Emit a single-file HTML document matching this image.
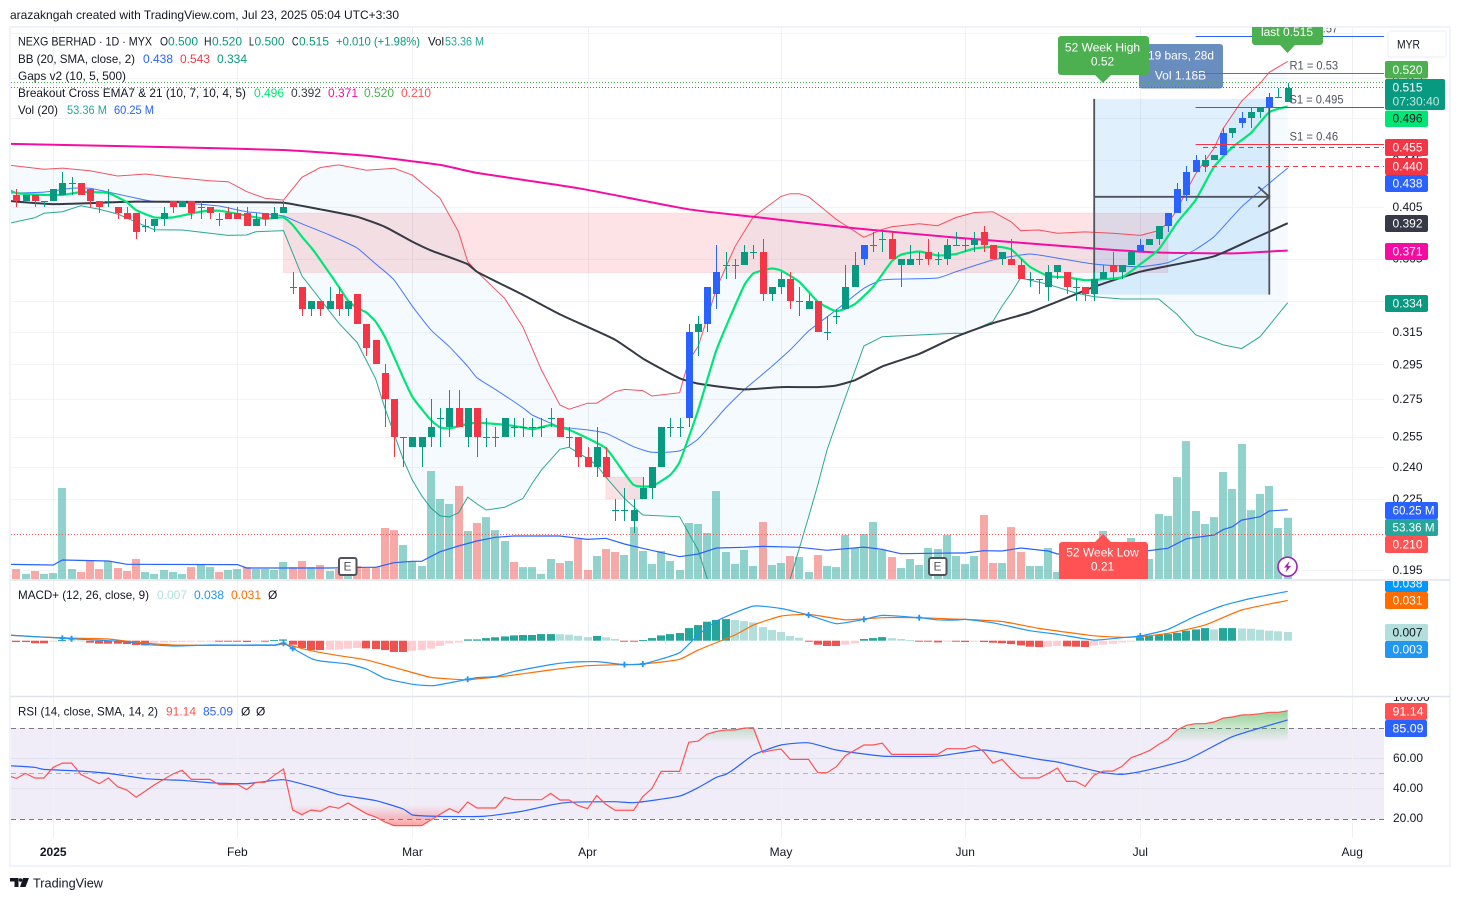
<!DOCTYPE html>
<html lang="en">
<head>
<meta charset="utf-8">
<title>NEXG BERHAD chart</title>
<style>
html,body{margin:0;padding:0;background:#fff;width:1460px;height:901px;overflow:hidden}
svg{display:block}
text{font-family:"Liberation Sans","DejaVu Sans",sans-serif;font-size:12px;dominant-baseline:central;fill:#131722}
.w{fill:#fff}
.c{text-anchor:middle}
</style>
</head>
<body>
<svg id="chart" xmlns="http://www.w3.org/2000/svg" width="1460" height="901" viewBox="0 0 1460 901">
<defs>
<clipPath id="clip-main"><rect x="11" y="28" width="1373" height="551"/></clipPath>
<clipPath id="clip-macd"><rect x="11" y="581" width="1373" height="115"/></clipPath>
<clipPath id="clip-rsi"><rect x="11" y="698" width="1373" height="140"/></clipPath>
<clipPath id="clip-axis-price"><rect x="1385" y="31" width="66" height="549"/></clipPath>
<clipPath id="clip-axis-macd"><rect x="1385" y="581" width="66" height="115"/></clipPath>
<clipPath id="clip-axis-rsi"><rect x="1385" y="697" width="66" height="140"/></clipPath>
<linearGradient id="rsi-over-grad" gradientUnits="userSpaceOnUse" x1="0" y1="711" x2="0" y2="742">
<stop offset="0" stop-color="#4caf50" stop-opacity=".6"/><stop offset="1" stop-color="#4caf50" stop-opacity="0"/>
</linearGradient>
<linearGradient id="rsi-under-grad" gradientUnits="userSpaceOnUse" x1="0" y1="826" x2="0" y2="805">
<stop offset="0" stop-color="#ff5252" stop-opacity=".55"/><stop offset="1" stop-color="#ff5252" stop-opacity="0"/>
</linearGradient>
</defs>

<rect x="0" y="0" width="1460" height="901" fill="#fff"/>
<text x="10" y="15" textLength="389" lengthAdjust="spacingAndGlyphs">arazakngah created with TradingView.com, Jul 23, 2025 05:04 UTC+3:30</text>
<rect x="10" y="27" width="1440" height="839" fill="#fff" stroke="#f0f3fa" stroke-width="2"/>

<rect x="11" y="728" width="1373" height="91" fill="#f0edf8"/>
<g id="grid"></g>

<g clip-path="url(#clip-main)">
<g id="bb-fill"></g>
<g id="gaps"></g>
<g id="volume"></g>
<g id="vol-ma"></g>
<g id="measure-fill"></g>
<g id="main-lines"></g>
<g id="measure-lines"></g>
<g id="candles"></g>
</g>

<line x1="11" x2="1384" y1="534.5" y2="534.5" stroke="#ff5252" stroke-dasharray="1 2"/>

<g>
<rect x="1139" y="44" width="84" height="44.5" rx="3" fill="#6a8dc0"/>
<text class="w" x="1148" y="55.5" textLength="66" lengthAdjust="spacingAndGlyphs">19 bars, 28d</text>
<text class="w c" x="1180.5" y="75.5">Vol 1.18B</text>
</g>

<line x1="11" x2="1384" y1="82.5" y2="82.5" stroke="#4caf50" stroke-dasharray="1 2"/>
<line x1="11" x2="1384" y1="87.5" y2="87.5" stroke="#089981" stroke-dasharray="1 2"/>
<g id="pivots" clip-path="url(#clip-main)"></g>
<line x1="1203" x2="1384" y1="147.5" y2="147.5" stroke="#f23645" stroke-dasharray="5 4"/>
<line x1="1203" x2="1384" y1="166.5" y2="166.5" stroke="#f23645" stroke-dasharray="5 4"/>

<g>
<path d="M1252 27H1323V42a3 3 0 0 1-3 3H1295L1287.5 53L1280 45H1255a3 3 0 0 1-3-3Z" fill="#4caf50"/>
<text class="w c" x="1287" y="32">last 0.515</text>
</g>
<g>
<path d="M1061 36H1146a3 3 0 0 1 3 3V72a3 3 0 0 1-3 3H1111L1103 83L1095 75H1061a3 3 0 0 1-3-3V39a3 3 0 0 1 3-3Z" fill="#4caf50"/>
<text class="w c" x="1102.5" y="47.5">52 Week High</text>
<text class="w c" x="1102.5" y="61.5">0.52</text>
</g>
<g>
<path d="M1095 542L1103 534L1111 542H1145a3 3 0 0 1 3 3V579H1059V545a3 3 0 0 1 3-3Z" fill="#ff5252"/>
<text class="w c" x="1102.5" y="552.5">52 Week Low</text>
<text class="w c" x="1102.5" y="566.5">0.21</text>
</g>

<g>
<rect x="339" y="558" width="17.5" height="17" rx="2" fill="#fff" stroke="#50535e" stroke-width="2"/>
<text class="c" x="347.5" y="566.7" style="fill:#50535e">E</text>
</g>
<g>
<rect x="929" y="558" width="17.5" height="17" rx="2" fill="#fff" stroke="#50535e" stroke-width="2"/>
<text class="c" x="937.5" y="566.7" style="fill:#50535e">E</text>
</g>
<g>
<circle cx="1287.5" cy="566.7" r="9.5" fill="#fff" stroke="#9c27b0" stroke-width="1.6"/>
<path d="M1289.5 561L1284 567.5H1287L1285.5 572.5L1291 566H1288Z" fill="#9c27b0"/>
</g>

<line x1="10" x2="1450" y1="580" y2="580" stroke="#e0e3eb" stroke-width="1.5"/>
<line x1="10" x2="1450" y1="696.5" y2="696.5" stroke="#e0e3eb" stroke-width="1.5"/>

<g clip-path="url(#clip-macd)">
<g id="macd-hist"></g>
<g id="macd-lines"></g>
</g>

<line x1="11" x2="1384" y1="728.5" y2="728.5" stroke="#787b86" stroke-dasharray="5 4"/>
<line x1="11" x2="1384" y1="773.5" y2="773.5" stroke="#b2b5be" stroke-dasharray="5 4"/>
<line x1="11" x2="1384" y1="819.5" y2="819.5" stroke="#787b86" stroke-dasharray="5 4"/>
<g clip-path="url(#clip-rsi)">
<g id="rsi-area"></g>
<g id="rsi-lines"></g>
</g>

<g id="price-ticks" clip-path="url(#clip-axis-price)"></g>
<g id="axis-labels"></g>
<g clip-path="url(#clip-axis-rsi)">
<text x="1393" y="697">100.00</text>
</g>
<text x="1393" y="758">60.00</text>
<text x="1393" y="788">40.00</text>
<text x="1393" y="818">20.00</text>

<g>
<rect x="1385" y="61" width="43" height="17.5" rx="2" fill="#4caf50"/><text class="w" x="1392.5" y="70">0.520</text>
<rect x="1385" y="79" width="60" height="31" rx="2" fill="#089981"/><text class="w" x="1392.5" y="87.5">0.515</text><text class="w" x="1392.5" y="101.5" style="opacity:.75" textLength="47" lengthAdjust="spacingAndGlyphs">07:30:40</text>
<rect x="1385" y="110.5" width="43" height="16.5" rx="2" fill="#00e676"/><text x="1392.5" y="118.5">0.496</text>
<rect x="1385" y="139" width="43" height="17" rx="2" fill="#f23645"/><text class="w" x="1392.5" y="147.5">0.455</text>
<rect x="1385" y="158" width="43" height="17" rx="2" fill="#f23645"/><text class="w" x="1392.5" y="166.5">0.440</text>
<rect x="1385" y="175" width="43" height="17" rx="2" fill="#2962ff"/><text class="w" x="1392.5" y="183.5">0.438</text>
<rect x="1385" y="215" width="43" height="17" rx="2" fill="#363a45"/><text class="w" x="1392.5" y="223.5">0.392</text>
<rect x="1385" y="243" width="43" height="17" rx="2" fill="#f50da2"/><text class="w" x="1392.5" y="251.5">0.371</text>
<rect x="1385" y="295" width="43" height="17" rx="2" fill="#089981"/><text class="w" x="1392.5" y="303.5">0.334</text>
<rect x="1385" y="502" width="53" height="17" rx="2" fill="#2962ff"/><text class="w" x="1392.5" y="510.5" textLength="42" lengthAdjust="spacingAndGlyphs">60.25 M</text>
<rect x="1385" y="519" width="53" height="17" rx="2" fill="#26a69a"/><text class="w" x="1392.5" y="527.5" textLength="42" lengthAdjust="spacingAndGlyphs">53.36 M</text>
<rect x="1385" y="536" width="43" height="17" rx="2" fill="#ff5252"/><text class="w" x="1392.5" y="544.5">0.210</text>
<g clip-path="url(#clip-axis-macd)"><rect x="1385" y="575" width="43" height="17" rx="2" fill="#0098ff"/><text class="w" x="1392.5" y="583.5">0.038</text></g>
<rect x="1385" y="592" width="43" height="17" rx="2" fill="#ff6d00"/><text class="w" x="1392.5" y="600.5">0.031</text>
<rect x="1385" y="624" width="43" height="17" rx="2" fill="#b2dfdb"/><text x="1392.5" y="632.5">0.007</text>
<rect x="1385" y="641" width="43" height="17" rx="2" fill="#2196f3"/><text class="w" x="1392.5" y="649.5">0.003</text>
<rect x="1385" y="703" width="42" height="17" rx="2" fill="#ff5252"/><text class="w" x="1392.5" y="711.5" textLength="31" lengthAdjust="spacingAndGlyphs">91.14</text>
<rect x="1385" y="720" width="42" height="17" rx="2" fill="#2962ff"/><text class="w" x="1392.5" y="728.5" textLength="31" lengthAdjust="spacingAndGlyphs">85.09</text>
</g>

<g>
<rect x="1388" y="31" width="58" height="26" rx="3" fill="#fff" stroke="#f0f3fa" stroke-width="1.5"/>
<text x="1397" y="44.5" textLength="23" lengthAdjust="spacingAndGlyphs">MYR</text>
</g>

<g>
<text x="18" y="41.5" textLength="134" lengthAdjust="spacingAndGlyphs">NEXG BERHAD · 1D · MYX</text>
<text x="160" y="41.5" textLength="8" lengthAdjust="spacingAndGlyphs">O</text><text x="168" y="41.5" style="fill:#089981">0.500</text>
<text x="204" y="41.5" textLength="7.5" lengthAdjust="spacingAndGlyphs">H</text><text x="212" y="41.5" style="fill:#089981">0.520</text>
<text x="249" y="41.5" textLength="5" lengthAdjust="spacingAndGlyphs">L</text><text x="254.5" y="41.5" style="fill:#089981">0.500</text>
<text x="292" y="41.5" textLength="6.5" lengthAdjust="spacingAndGlyphs">C</text><text x="299" y="41.5" style="fill:#089981">0.515</text>
<text x="336" y="41.5" style="fill:#089981" textLength="84" lengthAdjust="spacingAndGlyphs">+0.010 (+1.98%)</text>
<text x="428" y="41.5" textLength="16" lengthAdjust="spacingAndGlyphs">Vol</text><text x="445" y="41.5" style="fill:#26a69a" textLength="39" lengthAdjust="spacingAndGlyphs">53.36 M</text>

<text x="18" y="59" textLength="117" lengthAdjust="spacingAndGlyphs">BB (20, SMA, close, 2)</text>
<text x="143" y="59" style="fill:#2962ff">0.438</text>
<text x="180" y="59" style="fill:#f23645">0.543</text>
<text x="217" y="59" style="fill:#089981">0.334</text>

<text x="18" y="76" textLength="108" lengthAdjust="spacingAndGlyphs">Gaps v2 (10, 5, 500)</text>

<text x="18" y="93" textLength="228" lengthAdjust="spacingAndGlyphs">Breakout Cross EMA7 &amp; 21 (10, 7, 10, 4, 5)</text>
<text x="254" y="93" style="fill:#00e676">0.496</text>
<text x="291" y="93" style="fill:#363a45">0.392</text>
<text x="328" y="93" style="fill:#f50da2">0.371</text>
<text x="364" y="93" style="fill:#4caf50">0.520</text>
<text x="401" y="93" style="fill:#ff5252">0.210</text>

<text x="18" y="110" textLength="40" lengthAdjust="spacingAndGlyphs">Vol (20)</text>
<text x="67" y="110" style="fill:#26a69a" textLength="40" lengthAdjust="spacingAndGlyphs">53.36 M</text>
<text x="114" y="110" style="fill:#2962ff" textLength="40" lengthAdjust="spacingAndGlyphs">60.25 M</text>

<text x="18" y="595" textLength="131" lengthAdjust="spacingAndGlyphs">MACD+ (12, 26, close, 9)</text>
<text x="157" y="595" style="fill:#b2dfdb">0.007</text>
<text x="194" y="595" style="fill:#2196f3">0.038</text>
<text x="231" y="595" style="fill:#ff6d00">0.031</text>
<text x="268" y="595">Ø</text>

<text x="18" y="711.5" textLength="140" lengthAdjust="spacingAndGlyphs">RSI (14, close, SMA, 14, 2)</text>
<text x="166" y="711.5" style="fill:#ff5252" textLength="30" lengthAdjust="spacingAndGlyphs">91.14</text>
<text x="203" y="711.5" style="fill:#2962ff" textLength="30" lengthAdjust="spacingAndGlyphs">85.09</text>
<text x="241" y="711.5">Ø</text>
<text x="256" y="711.5">Ø</text>
</g>

<g>
<path d="M10 878H18.5V887H14.5V881.5H10ZM23 878H29L25.5 887H20Z" fill="#131722"/>
<circle cx="20.5" cy="880" r="1.8" fill="#131722"/>
<text x="33" y="883" style="font-size:13px" textLength="70" lengthAdjust="spacingAndGlyphs">TradingView</text>
</g>
</svg>

<script>
// ---- candle data (one entry per daily bar) ----
const opens=[.415,.41,.415,.41,.41,.415,.425,.425,.42,.41,.41,.405,.40,.40,.39,.39,.395,.41,.405,.41,.405,.405,.395,.40,.40,.40,.39,.40,.395,.40,.345,.345,.33,.335,.33,.34,.33,.34,.32,.31,.29,.275,.255,.25,.25,.255,.265,.26,.27,.255,.27,.255,.255,.255,.26,.26,.26,.26,.265,.265,.255,.255,.245,.24,.245,.22,.22,.215,.225,.23,.24,.26,.26,.265,.315,.32,.34,.36,.36,.36,.37,.37,.34,.345,.35,.335,.33,.335,.315,.325,.33,.345,.365,.375,.38,.38,.36,.36,.365,.37,.365,.365,.375,.375,.375,.385,.375,.365,.365,.36,.35,.35,.345,.355,.355,.345,.345,.34,.35,.36,.355,.36,.37,.375,.38,.39,.40,.415,.435,.44,.445,.45,.47,.48,.485,.49,.495,.505,.50];
const highs=[.42,.415,.415,.41,.42,.435,.43,.425,.42,.41,.42,.405,.405,.40,.395,.395,.405,.41,.41,.41,.41,.405,.40,.405,.405,.405,.40,.40,.405,.41,.355,.345,.335,.335,.345,.345,.335,.34,.32,.31,.295,.275,.255,.255,.255,.275,.27,.28,.28,.27,.27,.265,.26,.265,.265,.265,.265,.265,.27,.265,.26,.255,.25,.26,.25,.225,.23,.225,.235,.24,.26,.265,.265,.32,.325,.345,.375,.37,.365,.375,.375,.38,.345,.355,.355,.345,.34,.335,.325,.33,.36,.37,.375,.385,.385,.385,.365,.375,.37,.38,.37,.38,.385,.38,.385,.39,.375,.37,.38,.365,.355,.35,.36,.36,.355,.35,.345,.355,.36,.37,.36,.37,.38,.38,.39,.40,.425,.44,.45,.45,.45,.475,.475,.49,.495,.495,.51,.515,.52];
const lows=[.405,.41,.405,.405,.41,.415,.415,.415,.405,.40,.405,.395,.395,.38,.385,.385,.39,.40,.405,.395,.395,.395,.39,.395,.395,.39,.39,.39,.395,.40,.34,.325,.325,.325,.33,.325,.325,.32,.30,.295,.26,.245,.24,.25,.24,.25,.25,.255,.26,.25,.245,.25,.25,.255,.255,.255,.255,.255,.26,.255,.25,.24,.24,.235,.235,.215,.215,.21,.225,.225,.24,.255,.255,.26,.30,.315,.33,.35,.35,.36,.365,.335,.335,.34,.33,.325,.33,.315,.31,.32,.33,.345,.36,.37,.37,.365,.345,.36,.36,.36,.36,.36,.375,.37,.37,.37,.365,.36,.36,.35,.345,.34,.335,.35,.34,.335,.335,.335,.35,.35,.35,.36,.37,.375,.375,.385,.40,.41,.435,.435,.445,.45,.465,.475,.475,.485,.495,.505,.50];
const closes=[.41,.415,.41,.41,.42,.425,.425,.415,.41,.405,.41,.40,.395,.385,.39,.395,.40,.405,.41,.40,.405,.40,.395,.395,.395,.39,.395,.395,.40,.405,.345,.33,.335,.33,.335,.33,.335,.32,.305,.295,.275,.255,.255,.255,.255,.26,.265,.27,.26,.27,.255,.255,.255,.265,.26,.26,.26,.26,.265,.255,.255,.245,.24,.25,.235,.22,.22,.22,.23,.24,.26,.26,.26,.315,.32,.345,.355,.36,.36,.37,.37,.34,.345,.35,.335,.335,.335,.315,.315,.325,.345,.36,.375,.375,.38,.365,.365,.365,.365,.365,.365,.375,.375,.375,.38,.375,.365,.37,.36,.35,.35,.35,.355,.36,.345,.345,.34,.35,.355,.355,.36,.37,.375,.38,.39,.40,.42,.435,.445,.445,.45,.47,.475,.485,.49,.495,.505,.505,.515];
const breakoutBars=[73,75,76,92,122,125,126,127,128,131,133,136];

// ---- volume data (millions) ----
const volumes=[8.7,4.4,7,4.4,5.2,79.2,8.7,6.1,15.7,8.7,15.7,9.6,7,17.4,6.1,4.4,7.8,6.1,4.4,10.4,12.2,10.4,6.1,7.8,8.7,10.4,8.7,8.7,7.8,14.8,10.4,15.7,10.4,12.2,7,8.7,2.5,11.3,9.6,10.4,44.4,42.6,29.6,15.7,11.3,94,69.6,65.3,80.9,41.8,48.7,53.9,42.6,33.1,14.8,10.4,10.4,4.4,17.4,13.9,15.7,34.8,7.8,20,26.1,23.5,20.9,45.2,24.4,13.1,24.4,15.7,7.8,48.7,47.9,40,76.6,23.5,13.1,25.2,11.3,49.6,12.2,13.9,20,19.1,6.1,20.9,11.3,10.4,38.3,27,39.2,49.6,25.2,19.1,9.6,17.4,12.2,27,26.1,38.3,20,13,20,55.7,13.9,13.9,45.2,23.5,11.3,11.3,27,6.1,10,8,12,15,41.8,15,18,35.7,25,17.4,56.6,54.8,88.7,120,59.2,47.9,53.9,93.1,78.3,117.5,60,74,80.9,44.4,53.36];
const volDownBars=[0,2,7,8,9,11,12,13,19,22,25,30,31,33,35,37,38,39,40,41,48,50,54,59,61,62,64,65,81,84,87,95,105,106,108,109,114,116,119];
const volMaBars=[-1,4,5,10,12,24,25,34,38,39,41,43,44,46,48,50,52,54,59,62,64,66,68,72,74,76,79,81,85,88,92,94,96,102,103,105,107,109,112,113,118,122,124,125,127,130,131,132,133,135,136,138];
const volMaVals=[12.8,12.2,16.5,15.7,12.8,12.5,9.6,9.6,10.2,10.2,14.2,15.4,15.4,23.8,28.7,33.1,36.3,37.4,37.4,34.5,35.4,30.5,26.7,19.4,21.8,27,27.6,28.4,27.6,25,27.8,25.8,22,22.6,22.6,24.6,24.4,27,24.4,21.8,23.5,23.8,25.8,26.7,35.1,38.3,43,45.5,51.3,54.2,59.2,60.25];

// ---- Bollinger band data ----
const bbUpperBars=[-1,3,5,8,11,14,17,21,23,25,27,29,31,33,35,38,41,43,46,48,49,50,53,55,57,59,60,62,63,65,66,68,69,72,73,74,76,78,80,83,84,85,86,89,92,94,95,98,100,102,104,106,108,109,111,113,116,119,122,124,125,126,127,128,130,131,133,135,136,138];
const bbUpperVals=[.4408,.437,.438,.4357,.4311,.4328,.43,.427,.4262,.4178,.4122,.4107,.43,.4385,.4408,.4362,.4378,.4318,.4122,.3853,.3628,.3555,.337,.318,.2917,.2718,.2695,.2728,.2728,.2792,.2805,.2798,.2768,.2786,.2975,.3057,.3438,.3738,.397,.4137,.416,.416,.4135,.395,.381,.3872,.3892,.3915,.39,.3965,.4005,.4012,.393,.3862,.3867,.3842,.3852,.3842,.3825,.3862,.3922,.4025,.4185,.4328,.4558,.4745,.5012,.5197,.5312,.543];
const bbBasisBars=[-1,3,6,8,10,13,15,18,22,25,29,31,34,37,39,41,43,45,47,49,50,52,55,56,59,62,64,67,69,72,74,77,79,82,84,86,89,92,94,100,102,106,110,113,117,122,125,128,130,133,136,138];
const bbBasisVals=[.4165,.4173,.4206,.4206,.4173,.4123,.4094,.4085,.4058,.4012,.3977,.3915,.3828,.3728,.3612,.3497,.3315,.3162,.3057,.2938,.2872,.2805,.2702,.2664,.2602,.2585,.2568,.2499,.2471,.2478,.2538,.2702,.2802,.2938,.3037,.3155,.3292,.3438,.3497,.351,.3555,.364,.3684,.3654,.361,.3591,.3621,.3718,.3815,.4052,.4248,.438];
const bbLowerBars=[-1,2,3,5,7,9,11,14,15,18,23,25,26,29,31,35,37,39,40,42,43,44,45,46,47,48,49,50,51,53,55,56,57,59,60,62,63,64,66,68,72,74,75,76,80,83,84,85,86,87,88,89,90,92,94,102,103,106,107,108,109,112,115,117,120,124,126,128,131,133,135,138];
const bbLowerVals=[.3916,.3963,.3999,.4012,.406,.4031,.3993,.3897,.3869,.3867,.3825,.3828,.3853,.3862,.3525,.3205,.3082,.2866,.2702,.2436,.2335,.2264,.2209,.2174,.2169,.2187,.2258,.2227,.22,.2212,.2252,.2321,.2384,.2486,.2496,.244,.2408,.235,.2252,.2178,.217,.203,.1915,.175,.15,.165,.1915,.2038,.2169,.2314,.2482,.262,.2762,.3061,.3119,.3141,.3138,.3216,.3317,.3406,.351,.3466,.3406,.338,.3365,.3365,.3262,.3131,.3068,.3045,.3119,.334];

// ---- moving average data ----
const ema7Bars=[-1,0,3,5,7,10,12,13,15,17,20,22,25,27,29,30,31,32,33,35,36,37,38,39,40,41,42,43,45,46,47,49,50,51,53,55,56,58,60,62,64,65,67,69,71,72,74,76,79,80,82,83,85,87,89,91,93,95,96,98,100,102,104,106,107,108,109,110,112,114,116,118,120,122,124,126,128,130,132,134,136,138];
const ema7Vals=[.42,.4165,.415,.415,.4173,.4165,.4089,.4025,.3966,.3966,.4012,.402,.398,.3955,.3966,.3906,.3815,.3733,.364,.3449,.3354,.3303,.3275,.3216,.3119,.2995,.2872,.2762,.2637,.2598,.2593,.2616,.2622,.262,.2612,.2598,.2588,.261,.2585,.2542,.2491,.2433,.2314,.2309,.2362,.2423,.2689,.3037,.3457,.3542,.3578,.3564,.3483,.3347,.3283,.333,.3449,.3628,.3678,.3703,.3673,.3684,.3725,.3738,.3735,.3718,.3654,.3591,.3524,.3515,.3495,.3502,.3515,.3609,.3718,.3925,.4107,.4391,.4568,.47,.4903,.496];
const ema21Bars=[-1,4,13,25,29,33,37,40,43,45,49,50,55,59,65,68,72,74,79,83,87,89,91,94,98,102,106,110,113,117,122,130,134,138];
const ema21Vals=[.41,.4074,.4094,.4089,.4085,.4031,.3971,.3892,.3776,.3711,.3609,.3555,.3393,.3262,.31,.2985,.2868,.2838,.2805,.2818,.2818,.2827,.2857,.2938,.3013,.3119,.3205,.3275,.3347,.3449,.3555,.3667,.379,.392];
const longEmaBars=[-1,17,29,38,46,50,61,73,80,91,102,117,124,132,138];
const longEmaVals=[.46,.4568,.4543,.449,.4408,.4338,.4206,.4031,.3971,.388,.3808,.3725,.3695,.3689,.371];

// ---- gap and level data ----
const gapStartBars=[29,64];
const gapEndBars=[125,68];
const gapTopPrices=[.40,.235];
const gapBottomPrices=[.355,.225];
const measureBars=[117,136];
const measurePrices=[.5035,.3395];
const pivotPrices=[.572,.53,.495,.46];
const pivotLabels=["R2 = 0.57","R1 = 0.53","S1 = 0.495","S1 = 0.46"];
const pivotStartBar=128;

// ---- MACD data ----
const macdHist=[-.001,-.001,-.002,-.002,-.0005,.0005,.0004,.0002,-.0015,-.0023,-.0023,-.0023,-.0026,-.0033,-.0036,-.0015,-.0014,-.001,-.0009,-.0008,-.0007,-.0006,-.0008,-.0008,-.0008,-.001,-.0005,-.0005,.0005,.001,-.0031,-.0056,-.0072,-.0072,-.0071,-.0067,-.0061,-.0056,-.0059,-.0064,-.0072,-.0087,-.0087,-.0077,-.0072,-.0061,-.0041,-.002,-.0013,.001,.001,.002,.0026,.0033,.0041,.0044,.0044,.0051,.0051,.005,.0046,.0038,.0028,.0036,.0026,.0013,-.0005,-.0005,.0005,.002,.0041,.0051,.0059,.0097,.012,.0146,.0159,.0166,.0159,.0151,.0141,.0105,.0082,.0067,.0036,.0023,-.0005,-.0031,-.0041,-.0041,-.0031,-.002,.0013,.002,.0028,.002,.0013,.0005,-.0003,-.0005,-.0013,-.0008,-.0008,-.001,-.0008,-.001,-.0015,-.002,-.0026,-.0036,-.0046,-.0049,-.0046,-.0041,-.0044,-.0046,-.0049,-.0038,-.0031,-.0023,-.0013,-.0003,.0026,.0036,.0044,.0051,.0061,.0077,.0087,.0097,.0087,.0097,.0097,.0095,.0092,.0085,.0077,.0072,.0067];
const macdBars=[-1,4,6,12,14,17,21,28,29,30,32,33,36,38,40,43,45,46,49,50,52,54,58,60,63,66,68,72,74,76,80,83,86,89,92,94,98,100,102,103,106,110,113,117,120,122,125,128,131,134,138];
const macdVals=[.0044,.0023,.0015,-.0008,-.0028,-.0041,-.0033,-.0033,-.002,-.0059,-.0136,-.0156,-.0179,-.0218,-.0289,-.0335,-.0346,-.0338,-.0297,-.0284,-.0276,-.0238,-.0184,-.0166,-.0161,-.0184,-.0179,-.0092,.0044,.0151,.0266,.0248,.0197,.0131,.0164,.0195,.0177,.0161,.0159,.0164,.0138,.0077,.0049,.0005,.0023,.0036,.0087,.0189,.0271,.0325,.038];
const signalBars=[-1,2,6,10,13,17,28,29,30,32,35,38,42,45,49,50,54,58,62,66,68,72,74,78,80,83,86,90,94,98,102,103,107,111,117,120,122,125,129,133,138];
const signalVals=[.0044,.0031,.002,.0013,-.0013,-.0033,-.0036,-.0026,-.0041,-.0077,-.0115,-.0148,-.0225,-.0282,-.0302,-.0294,-.0264,-.0225,-.0192,-.0184,-.0179,-.0143,-.0072,.0044,.012,.0189,.0202,.0161,.0177,.0177,.0166,.0164,.0148,.0095,.0038,.0026,.0031,.0056,.012,.0236,.031];
const macdCrossBars=[5,6,29,30,49,66,68,86,92,98,122];

// ---- RSI data ----
const rsiLeadValue=48.5;
const rsiValues=[46.5,49.8,46.7,46.7,53.8,56.6,56.6,49.1,46.1,43,46.7,41,38.8,34,38.1,42.3,45.8,49.4,51.8,45.8,45.8,45.8,42.5,42.5,42.5,39,43.9,43.9,48.5,52.7,25.6,22.5,25.6,24.7,28,26.7,30.2,26.7,23.2,21,17.7,15.3,15.3,15.3,15.3,19,22.7,26.5,23.8,30.9,26.9,26.9,26.9,34,32.4,32.4,32.4,32.4,36.6,32.2,32.2,28.5,26.5,35.1,29.3,25.4,25.4,25.4,34.4,39.9,51.1,51.1,51.1,70.3,71.1,75.8,77.5,78.4,78.4,79.7,79.9,63.7,65,65.9,59,59,59,50.2,50.2,54.2,61.5,65,68.5,68.5,69.8,62.3,62.3,62.3,62.3,62.3,62.3,66.1,66.1,66.1,68.1,64.1,56.6,59,52.4,46.7,46.7,46.7,49.8,53.3,44.5,44.5,41.2,48.7,51.3,51.3,54.4,60.1,62.3,64.8,68.9,72.5,78.4,81.5,82.6,82.6,83.7,86.3,87,88.3,88.5,89.2,90.1,90.1,91.14];
const rsiMaBars=[-1,2,3,7,10,14,16,18,21,25,29,33,35,39,42,43,46,51,55,58,60,65,67,72,74,76,77,78,80,83,86,89,94,100,105,111,113,118,120,122,127,132,138];
const rsiMaVals=[54.9,53.8,52.4,51.3,49.8,46.3,45.6,45.2,43.6,43,45.6,39.5,35.7,31.8,26.3,22.3,21.4,21.6,24.9,28.9,30.7,31.1,30.4,34.8,40.3,47.2,49.1,53,61.9,68.5,70,65.2,61.2,61.2,65.2,59,57.3,50.2,49.1,50.9,58.6,74,85.09];

// ---- axis data ----
const priceTicks=[.575,.525,.485,.445,.405,.365,.335,.315,.295,.275,.255,.24,.225,.195];
const rsiGridLevels=[60,40];
const timeTickBars=[4,24,43,62,83,103,122,145];
const timeTickLabels=["2025","Feb","Mar","Apr","May","Jun","Jul","Aug"];

// ---- axis functions ----
const xB=i=>16.3+9.213*i;
const yP=p=>207+496.5*Math.log(.405/p);
const yV=v=>579-v*1.149;
const yM=v=>640.7-v*1300;
const yR=v=>818.5-(v-20)*1.515;

const NS='http://www.w3.org/2000/svg';
function add(tag,parent,attrs){
  const n=document.createElementNS(NS,tag);
  for(const k in attrs)n.setAttribute(k,attrs[k]);
  parent.appendChild(n);
  return n;
}
const byId=id=>document.getElementById(id);
const pts=(bars,vals,yf)=>bars.map((b,i)=>xB(b).toFixed(1)+','+yf(vals[i]).toFixed(1)).join(' ');
// Curve through the read points (adjacent keypoints joined with a Catmull-Rom segment)
function curve(bars,vals,yf){
  const P=bars.map((b,i)=>[xB(b),yf(vals[i])]);
  let d='M'+P[0][0].toFixed(1)+' '+P[0][1].toFixed(1);
  for(let i=0;i<P.length-1;i++){
    const a=P[Math.max(0,i-1)],b=P[i],c=P[i+1],e=P[Math.min(P.length-1,i+2)];
    const k=(c[0]-b[0])/6;
    const s1=(c[1]-a[1])/Math.max(c[0]-a[0],1);
    const s2=(e[1]-b[1])/Math.max(e[0]-b[0],1);
    d+=`C${(b[0]+k).toFixed(1)} ${(b[1]+s1*k).toFixed(1)} ${(c[0]-k).toFixed(1)} ${(c[1]-s2*k).toFixed(1)} ${c[0].toFixed(1)} ${c[1].toFixed(1)}`;
  }
  return d;
}
function valueAt(bars,vals,bar){
  for(let i=1;i<bars.length;i++){
    if(bar<=bars[i]){
      const t=(bar-bars[i-1])/(bars[i]-bars[i-1]);
      return vals[i-1]+(vals[i]-vals[i-1])*t;
    }
  }
  return vals[vals.length-1];
}

// grid
const gridG=byId('grid');
priceTicks.forEach(p=>{
  const y=Math.round(yP(p))+.5;
  const l=add('line',gridG,{x1:11,x2:1384,y1:y,y2:y,stroke:'#f3f4f7'});
  
  
});
rsiGridLevels.forEach(v=>{
  const y=Math.round(yR(v))+.5;
  const l=add('line',gridG,{x1:11,x2:1384,y1:y,y2:y,stroke:'#e0e3eb'});
  
  
});
timeTickBars.forEach(b=>{
  const x=Math.round(xB(b))+.5;
  const l=add('line',gridG,{x1:x,x2:x,y1:28,y2:838,stroke:'#eff1f4'});
  
  
});

// axis labels
priceTicks.forEach(p=>{
  const t=add('text',byId('price-ticks'),{x:1392.5,y:yP(p).toFixed(1)});
  
  
  t.textContent=p.toFixed(3);
});
timeTickBars.forEach((b,i)=>{
  const t=add('text',byId('axis-labels'),{x:xB(b).toFixed(1),y:852,class:'c'});
  
  
  if(i===0)t.style.fontWeight='bold';
  t.textContent=timeTickLabels[i];
});

// Bollinger fill
const bandPts=pts(bbUpperBars,bbUpperVals,yP)+' '+bbLowerBars.slice().reverse().map(b=>{
  const v=bbLowerVals[bbLowerBars.indexOf(b)];
  return xB(b).toFixed(1)+','+yP(v).toFixed(1);
}).join(' ');
const band=add('polygon',byId('bb-fill'),{points:bandPts,fill:'#2196f3','fill-opacity':.05});



// gaps
gapStartBars.forEach((b,i)=>{
  const y1=yP(gapTopPrices[i]),y2=yP(gapBottomPrices[i]);
  const r=add('rect',byId('gaps'),{x:xB(b).toFixed(1),y:y1.toFixed(1),width:(xB(gapEndBars[i])-xB(b)).toFixed(1),height:(y2-y1).toFixed(1),fill:'#f23645','fill-opacity':.14,stroke:'#f23645','stroke-opacity':.1});
  
  
});

// volume
volumes.forEach((v,i)=>{
  const top=yV(v);
  const r=add('rect',byId('volume'),{x:Math.round(xB(i))-4,y:top.toFixed(1),width:8,height:(579-top).toFixed(1),fill:volDownBars.includes(i)?'#ef5350':'#26a69a','fill-opacity':.5});
  
  
});
const volLine=add('polyline',byId('vol-ma'),{points:pts(volMaBars,volMaVals,yV),fill:'none',stroke:'#2962ff','stroke-width':1.2});



// measure tool
const mx1=xB(measureBars[0]),mx2=xB(measureBars[1]),my1=yP(measurePrices[0]),my2=yP(measurePrices[1]),mym=(my1+my2)/2;
const mRect=add('rect',byId('measure-fill'),{x:mx1.toFixed(1),y:my1.toFixed(1),width:(mx2-mx1).toFixed(1),height:(my2-my1).toFixed(1),fill:'#2196f3','fill-opacity':.14});


[mx1,mx2].forEach(x=>{
  const l=add('line',byId('measure-lines'),{x1:x.toFixed(1),x2:x.toFixed(1),y1:my1.toFixed(1),y2:my2.toFixed(1),stroke:'#50535e','stroke-width':1.8});
  
  
});
const mArrow=add('path',byId('measure-lines'),{d:`M${mx1.toFixed(1)} ${mym.toFixed(1)}H${mx2.toFixed(1)}M${(mx2-11).toFixed(1)} ${(mym-10).toFixed(1)}L${mx2.toFixed(1)} ${mym.toFixed(1)}L${(mx2-11).toFixed(1)} ${(mym+10).toFixed(1)}`,fill:'none',stroke:'#50535e','stroke-width':1.8});



// indicator lines
const linesG=byId('main-lines');
const bbU=add('polyline',linesG,{points:pts(bbUpperBars,bbUpperVals,yP),fill:'none',stroke:'#f23645','stroke-width':1,'stroke-opacity':.85});


const bbL=add('polyline',linesG,{points:pts(bbLowerBars,bbLowerVals,yP),fill:'none',stroke:'#089981','stroke-width':1,'stroke-opacity':.85});


const bbB=add('path',linesG,{d:curve(bbBasisBars,bbBasisVals,yP),fill:'none',stroke:'#2962ff','stroke-width':1,'stroke-opacity':.85});


const longLine=add('path',linesG,{d:curve(longEmaBars,longEmaVals,yP),fill:'none',stroke:'#f50da2','stroke-width':2});


const ema21Line=add('path',linesG,{d:curve(ema21Bars,ema21Vals,yP),fill:'none',stroke:'#363a45','stroke-width':2});


const ema7Line=add('path',linesG,{d:curve(ema7Bars,ema7Vals,yP),fill:'none',stroke:'#00e676','stroke-width':2.2,'stroke-linejoin':'round'});



// candles
closes.forEach((c,i)=>{
  const o=opens[i];
  const col=breakoutBars.includes(i)?'#2962ff':(c<o?'#f23645':'#089981');
  const xc=Math.round(xB(i));
  const yH=Math.round(yP(highs[i])),yL=Math.round(yP(lows[i]));
  const yT=Math.round(yP(Math.max(o,c))),yB=Math.round(yP(Math.min(o,c)));
  const wick=add('rect',byId('candles'),{x:xc,y:yH,width:1,height:Math.max(1,yL-yH),fill:col,'shape-rendering':'crispEdges'});
  
  
  const body=add('rect',byId('candles'),{x:xc-3,y:yT,width:7,height:Math.max(1,yB-yT),fill:col,'shape-rendering':'crispEdges'});
  
  
});

// pivots
pivotPrices.forEach((p,i)=>{
  const y=Math.round(yP(p))+.5;
  const col=(i%2===0)?'#2962ff':'#f23645';
  const l=add('line',byId('pivots'),{x1:xB(pivotStartBar).toFixed(1),x2:1384,y1:y,y2:y,stroke:col});
  
  
  const t=add('text',byId('pivots'),{x:1289.5,y:y-8,textLength:(pivotLabels[i].length*5.4).toFixed(1),lengthAdjust:'spacingAndGlyphs'});
  
  
  t.style.fill='#50535e';
  t.textContent=pivotLabels[i];
});

// MACD
macdHist.forEach((v,i)=>{
  const prev=i?macdHist[i-1]:v;
  let col;
  if(v>=0)col=v>=prev?'#26a69a':'#b2dfdb';
  else col=v<=prev?'#ef5350':'#ffcdd2';
  const y0=yM(0),y1=yM(v);
  const r=add('rect',byId('macd-hist'),{x:Math.round(xB(i))-4,y:Math.min(y0,y1).toFixed(1),width:8,height:Math.max(1,Math.abs(y1-y0)).toFixed(1),fill:col});
  
  
});
const sigLine=add('path',byId('macd-lines'),{d:curve(signalBars,signalVals,yM),fill:'none',stroke:'#ff6d00','stroke-width':1.2});


const macLine=add('path',byId('macd-lines'),{d:curve(macdBars,macdVals,yM),fill:'none',stroke:'#2196f3','stroke-width':1.2});


macdCrossBars.forEach(b=>{
  const x=xB(b),y=yM(valueAt(macdBars,macdVals,b));
  const m=add('path',byId('macd-lines'),{d:`M${(x-3).toFixed(1)} ${y.toFixed(1)}h6M${x.toFixed(1)} ${(y-3).toFixed(1)}v6`,stroke:'#2196f3','stroke-width':1.8,fill:'none'});
  
  
});

// RSI
const allBars=rsiValues.map((v,i)=>i);
const overTop=rsiValues.map(v=>Math.max(v,70));
const underTop=rsiValues.map(v=>Math.min(v,29));
const overArea=add('polygon',byId('rsi-area'),{points:pts(allBars,overTop,yR)+` ${xB(138).toFixed(1)},${yR(70).toFixed(1)} ${xB(0).toFixed(1)},${yR(70).toFixed(1)}`,fill:'url(#rsi-over-grad)'});


const underArea=add('polygon',byId('rsi-area'),{points:pts(allBars,underTop,yR)+` ${xB(138).toFixed(1)},${yR(29).toFixed(1)} ${xB(0).toFixed(1)},${yR(29).toFixed(1)}`,fill:'url(#rsi-under-grad)'});


const rsiMaLine=add('path',byId('rsi-lines'),{d:curve(rsiMaBars,rsiMaVals,yR),fill:'none',stroke:'#2962ff','stroke-width':1.2});


const rsiLine=add('polyline',byId('rsi-lines'),{points:`${xB(-1).toFixed(1)},${yR(rsiLeadValue).toFixed(1)} `+pts(allBars,rsiValues,yR),fill:'none',stroke:'#ff5252','stroke-width':1.2});


</script>
</body>
</html>
